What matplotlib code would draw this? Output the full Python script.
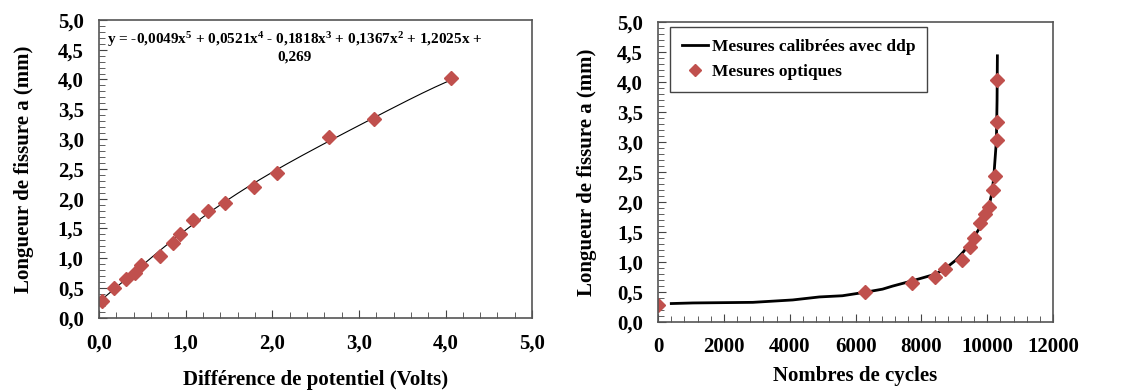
import matplotlib.pyplot as plt
from matplotlib.ticker import MultipleLocator, FuncFormatter
import numpy as np

plt.rcParams['font.family'] = ['Liberation Serif', 'DejaVu Serif']
plt.rcParams['font.weight'] = 'bold'
plt.rcParams['mathtext.fontset'] = 'custom'
plt.rcParams['mathtext.rm'] = 'Liberation Serif:bold'
plt.rcParams['mathtext.bf'] = 'Liberation Serif:bold'
plt.rcParams['mathtext.it'] = 'Liberation Serif:bold'
plt.rcParams['mathtext.default'] = 'bf'

# Left: crack length vs potential difference
ddp_volts = [0.03, 0.17, 0.31, 0.42, 0.49, 0.70, 0.86, 0.93, 1.09, 1.26,
             1.45, 1.79, 2.05, 2.65, 3.17, 4.06]
crack_mm = [0.28, 0.50, 0.66, 0.76, 0.88, 1.04, 1.25, 1.41, 1.65, 1.80,
            1.92, 2.20, 2.43, 3.03, 3.34, 4.03]
# trendline coefficients (x^5 ... x^0) as printed on the chart
trend_coefs = [-0.0049, 0.0521, -0.1818, 0.1367, 1.2025, 0.269]
trend_label = ("y = -0,0049x$^5$ + 0,0521x$^4$ - 0,1818x$^3$ + 0,1367x$^2$ + 1,2025x +\n"
               "0,269")

# Right: calibrated curve and optical measurements vs cycles
calib_cycles = [400, 1060, 2880, 4090, 4900, 5600, 6310, 6820, 7120, 7730,
                8430, 8740, 9040, 9290, 9600, 9850, 10050, 10150, 10200,
                10250, 10280, 10300, 10310]
calib_mm = [0.31, 0.32, 0.33, 0.37, 0.42, 0.44, 0.50, 0.55, 0.60, 0.69,
            0.80, 0.90, 1.03, 1.18, 1.42, 1.64, 1.92, 2.17, 2.42,
            2.80, 3.03, 3.70, 4.44]
optic_cycles = [0, 6280, 7730, 8400, 8720, 9220, 9490, 9590, 9790, 9930,
                10050, 10180, 10240, 10300, 10300, 10310]

marker_color = '#C0504D'
comma = FuncFormatter(lambda v, p: f"{v:.1f}".replace('.', ','))


def style_axes(ax, ypad):
    for s in ax.spines.values():
        s.set_color('#555555')
        s.set_linewidth(1.2)
    ax.tick_params(which='both', direction='in', top=False, right=False,
                   labelsize=15, color='#444444', pad=11)
    ax.tick_params(which='major', length=6)
    ax.tick_params(which='minor', length=4)
    ax.yaxis.set_major_locator(MultipleLocator(0.5))
    ax.yaxis.set_minor_locator(MultipleLocator(0.1))
    ax.yaxis.set_major_formatter(comma)
    ax.set_ylim(0, 5)
    ax.set_ylabel("Longueur de fissure a (mm)", fontsize=15, fontweight='bold',
                  labelpad=ypad)


fig = plt.figure(figsize=(11.25, 3.9), dpi=100)

ax1 = fig.add_axes([0.088, 0.185, 0.385, 0.764])
xs = np.linspace(0.0, max(ddp_volts), 200)
ax1.plot(xs, np.polyval(trend_coefs, xs), color='black', lw=0.8)
ax1.plot(ddp_volts, crack_mm, 'D', color=marker_color, ms=7, ls='none')
ax1.set_xlim(0, 5)
ax1.xaxis.set_major_locator(MultipleLocator(1))
ax1.xaxis.set_minor_locator(MultipleLocator(0.2))
ax1.xaxis.set_major_formatter(comma)
style_axes(ax1, 17)
ax1.set_xlabel("Différence de potentiel (Volts)", fontsize=15,
               fontweight='bold', labelpad=12)
ax1.text(0.019, 0.965, trend_label, transform=ax1.transAxes, fontsize=11,
         ha='left', va='top', multialignment='center', linespacing=1.15)

ax2 = fig.add_axes([0.585, 0.174, 0.351, 0.769])
ax2.plot(calib_cycles, calib_mm, color='black', lw=2,
         label="Mesures calibrées avec ddp")
ax2.plot(optic_cycles, crack_mm, 'D', color=marker_color, ms=7, ls='none',
         label="Mesures optiques")
ax2.set_xlim(0, 12000)
ax2.xaxis.set_major_locator(MultipleLocator(2000))
ax2.xaxis.set_minor_locator(MultipleLocator(400))
style_axes(ax2, 14)
ax2.set_xlabel("Nombres de cycles", fontsize=15, fontweight='bold',
               labelpad=6)
leg = ax2.legend(loc='upper left', bbox_to_anchor=(0.03, 0.985), fontsize=12.5,
                 fancybox=False, edgecolor='#444444', framealpha=1,
                 handlelength=1.5, handletextpad=0.2, borderpad=0.7,
                 labelspacing=0.5, borderaxespad=0, markerscale=0.85)
leg.get_frame().set_linewidth(1.0)
for t in leg.get_texts():
    t.set_fontweight('bold')

fig.savefig('out.png', dpi=100)
